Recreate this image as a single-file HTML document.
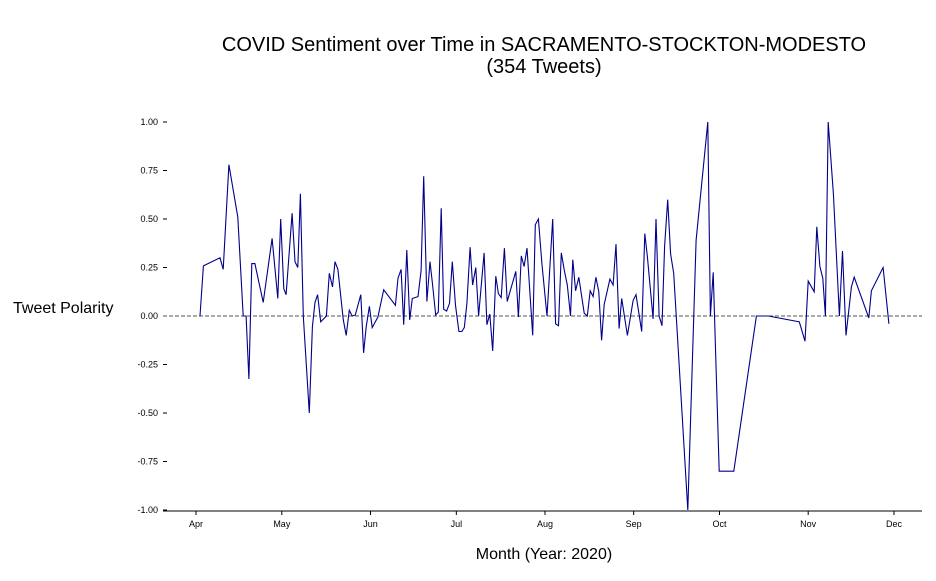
<!DOCTYPE html>
<html><head><meta charset="utf-8"><style>
body{margin:0;background:#fff;}
svg text{font-family:"Liberation Sans",Arial,sans-serif;}
</style></head><body>
<svg width="936" height="576" viewBox="0 0 936 576">
<text x="544" y="51" font-size="20" text-anchor="middle">COVID Sentiment over Time in SACRAMENTO-STOCKTON-MODESTO</text>
<text x="544" y="73" font-size="20" text-anchor="middle">(354 Tweets)</text>
<text x="13" y="313" font-size="16">Tweet Polarity</text>
<text x="544" y="559" font-size="16" text-anchor="middle">Month (Year: 2020)</text>
<g id="axes"></g>
<g id="plot"></g>
</svg>
<script>
const monthLabels=["Apr","May","Jun","Jul","Aug","Sep","Oct","Nov","Dec"];
const monthDays=[0,30,61,91,122,153,183,214,244];
const yTicks=[1.00,0.75,0.50,0.25,0.00,-0.25,-0.50,-0.75,-1.00];
// days since Apr 1, 2020
const days=[1.4,2.6,8.4,9.5,11.5,14.6,16.5,17.5,18.5,19.5,20.6,23.5,26.6,28.6,29.6,30.7,31.5,33.6,34.6,35.6,36.5,37.5,39.6,40.7,41.6,42.5,43.6,45.6,46.6,47.7,48.6,49.6,51.5,52.5,53.6,54.6,55.7,57.6,58.6,59.5,60.6,61.6,63.6,65.6,69.7,70.6,71.7,72.6,73.7,74.7,75.6,77.6,78.7,79.6,80.7,81.8,82.7,83.8,84.7,85.7,86.6,87.6,88.6,89.6,90.7,91.9,92.9,93.8,94.7,95.8,96.7,97.8,98.8,100.7,101.7,102.7,103.7,104.8,105.7,106.7,107.8,108.8,111.8,112.7,113.7,114.7,115.7,117.7,118.6,119.7,120.9,122.7,124.7,125.7,126.7,127.7,128.8,129.8,130.9,131.7,132.7,133.8,135.7,136.8,137.8,138.8,139.8,140.8,141.8,142.7,144.7,145.8,146.8,147.9,148.8,150.8,152.8,153.8,155.8,156.9,157.8,159.8,160.8,161.9,162.9,163.8,164.9,165.9,167.0,171.9,174.8,178.9,179.8,180.8,182.9,188.0,195.9,200.1,210.9,212.9,214.0,216.1,217.0,218.1,219.1,220.0,221.0,222.8,224.9,226.0,227.2,229.1,230.1,235.2,236.1,240.2,242.2];
const polarity=[0,0.258,0.30,0.24,0.78,0.51,0,0,-0.325,0.27,0.27,0.07,0.40,0.09,0.50,0.14,0.11,0.53,0.28,0.25,0.63,0,-0.50,-0.055,0.07,0.11,-0.03,0,0.22,0.15,0.28,0.24,-0.02,-0.10,0.03,0,0.005,0.11,-0.19,-0.055,0.05,-0.06,-0.005,0.135,0.055,0.195,0.24,-0.045,0.34,-0.02,0.09,0.10,0.235,0.72,0.075,0.28,0.16,0.005,0.02,0.555,0.035,0.025,0.065,0.28,0.055,-0.08,-0.08,-0.06,0.065,0.355,0.16,0.25,0,0.325,-0.045,0.01,-0.18,0.205,0.115,0.095,0.35,0.075,0.23,-0.005,0.31,0.255,0.35,-0.10,0.47,0.50,0.27,0,0.50,-0.04,-0.05,0.325,0.23,0.16,0,0.29,0.13,0.20,0.015,0,0.13,0.10,0.20,0.125,-0.125,0.06,0.19,0.16,0.37,-0.065,0.09,-0.10,0.08,0.11,-0.08,0.425,0.305,-0.015,0.50,0,-0.05,0.36,0.60,0.32,0.22,-1.0,0.39,1.0,0,0.225,-0.80,-0.80,0,0,-0.03,-0.13,0.18,0.125,0.46,0.255,0.195,0,1.0,0.63,0,0.335,-0.10,0.15,0.20,-0.01,0.13,0.25,-0.04];

const NS="http://www.w3.org/2000/svg";
const X0=196,PXD=2.8607,LEFT=163,RIGHT=922,YTOP=122,YBOT=510;
const xs=d=>X0+d*PXD;
const ys=v=>YBOT-(v+1)/2*(YBOT-YTOP);
const axes=document.getElementById('axes'),plot=document.getElementById('plot');
function mk(tag,attrs,parent){const e=document.createElementNS(NS,tag);for(const k in attrs)e.setAttribute(k,attrs[k]);parent.appendChild(e);return e;}

const spine=mk('line',{x1:LEFT,x2:RIGHT,y1:YBOT+1,y2:YBOT+1,stroke:'#000','stroke-width':1},axes);



monthDays.forEach((d,i)=>{
  const x=xs(d);
  const t=mk('line',{x1:x,x2:x,y1:YBOT+1,y2:YBOT+5,stroke:'#000','stroke-width':1},axes);
  
  
  const l=mk('text',{x:x,y:YBOT+17,'font-size':9,'text-anchor':'middle'},axes);
  l.textContent=monthLabels[i];
  
  
});
yTicks.forEach(v=>{
  const y=ys(v);
  const t=mk('line',{x1:163,x2:167,y1:y,y2:y,stroke:'#000','stroke-width':1},axes);
  
  
  const l=mk('text',{x:158,y:y+3,'font-size':9,'text-anchor':'end'},axes);
  l.textContent=v.toFixed(2);
  
  
});
const zero=mk('line',{x1:LEFT,x2:RIGHT,y1:ys(0),y2:ys(0),stroke:'#555','stroke-width':1,'stroke-dasharray':'4,2'},plot);


const pts=days.map((d,i)=>xs(d).toFixed(1)+','+ys(polarity[i]).toFixed(1)).join(' ');
const line=mk('polyline',{points:pts,fill:'none',stroke:'#00008b','stroke-width':1.1,'stroke-linejoin':'miter'},plot);


</script>
</body></html>
